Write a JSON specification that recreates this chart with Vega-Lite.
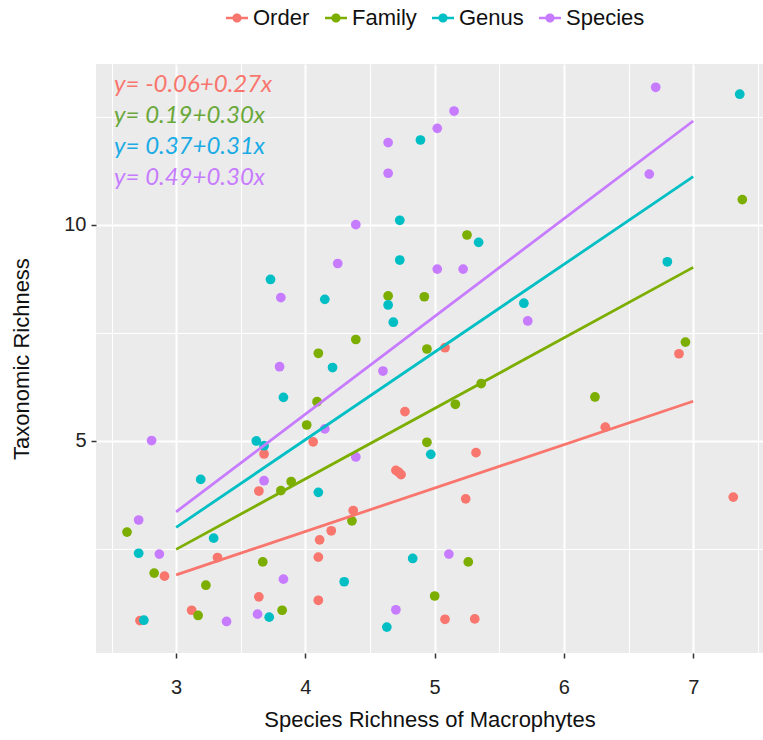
{
  "$schema": "https://vega.github.io/schema/vega-lite/v6.json",
  "width": 667,
  "height": 589,
  "autosize": {"type": "none"},
  "padding": {"left": 96, "top": 64, "right": 0, "bottom": 87},
  "background": "white",
  "config": {
    "view": {"fill": "#ebebeb", "stroke": null},
    "font": "Liberation Sans",
    "axis": {
      "domain": false,
      "gridColor": "white",
      "tickColor": "#333333",
      "labelColor": "#222222",
      "titleColor": "#111111",
      "titleFontWeight": "normal",
      "labelFont": "Liberation Sans",
      "titleFont": "Liberation Sans"
    },
    "legend": {
      "labelFont": "Liberation Sans",
      "labelFontSize": 22,
      "labelColor": "#111111"
    }
  },
  "datasets": {
    "pts": [
      {"x": 4.06, "y": 4.97, "group": "Order"},
      {"x": 3.68, "y": 4.69, "group": "Order"},
      {"x": 3.64, "y": 3.83, "group": "Order"},
      {"x": 3.32, "y": 2.29, "group": "Order"},
      {"x": 4.10, "y": 2.30, "group": "Order"},
      {"x": 4.11, "y": 2.70, "group": "Order"},
      {"x": 4.20, "y": 2.91, "group": "Order"},
      {"x": 2.91, "y": 1.86, "group": "Order"},
      {"x": 3.64, "y": 1.38, "group": "Order"},
      {"x": 4.10, "y": 1.30, "group": "Order"},
      {"x": 3.12, "y": 1.07, "group": "Order"},
      {"x": 2.72, "y": 0.83, "group": "Order"},
      {"x": 4.70, "y": 4.31, "group": "Order"},
      {"x": 4.72, "y": 4.27, "group": "Order"},
      {"x": 4.74, "y": 4.21, "group": "Order"},
      {"x": 5.24, "y": 3.65, "group": "Order"},
      {"x": 4.37, "y": 3.38, "group": "Order"},
      {"x": 5.08, "y": 0.86, "group": "Order"},
      {"x": 5.31, "y": 0.87, "group": "Order"},
      {"x": 5.32, "y": 4.72, "group": "Order"},
      {"x": 4.77, "y": 5.67, "group": "Order"},
      {"x": 5.08, "y": 7.15, "group": "Order"},
      {"x": 6.89, "y": 7.01, "group": "Order"},
      {"x": 6.32, "y": 5.31, "group": "Order"},
      {"x": 7.31, "y": 3.69, "group": "Order"},
      {"x": 5.25, "y": 9.76, "group": "Family"},
      {"x": 7.38, "y": 10.58, "group": "Family"},
      {"x": 4.10, "y": 7.02, "group": "Family"},
      {"x": 4.09, "y": 5.90, "group": "Family"},
      {"x": 4.01, "y": 5.36, "group": "Family"},
      {"x": 4.64, "y": 8.35, "group": "Family"},
      {"x": 4.92, "y": 8.33, "group": "Family"},
      {"x": 4.39, "y": 7.34, "group": "Family"},
      {"x": 4.94, "y": 7.12, "group": "Family"},
      {"x": 5.36, "y": 6.32, "group": "Family"},
      {"x": 5.16, "y": 5.84, "group": "Family"},
      {"x": 4.94, "y": 4.96, "group": "Family"},
      {"x": 6.94, "y": 7.28, "group": "Family"},
      {"x": 6.24, "y": 6.01, "group": "Family"},
      {"x": 3.81, "y": 3.84, "group": "Family"},
      {"x": 3.89, "y": 4.05, "group": "Family"},
      {"x": 2.62, "y": 2.88, "group": "Family"},
      {"x": 3.67, "y": 2.19, "group": "Family"},
      {"x": 2.83, "y": 1.93, "group": "Family"},
      {"x": 3.23, "y": 1.65, "group": "Family"},
      {"x": 3.17, "y": 0.95, "group": "Family"},
      {"x": 3.82, "y": 1.07, "group": "Family"},
      {"x": 4.36, "y": 3.14, "group": "Family"},
      {"x": 5.26, "y": 2.19, "group": "Family"},
      {"x": 5.00, "y": 1.40, "group": "Family"},
      {"x": 4.89, "y": 11.96, "group": "Genus"},
      {"x": 4.73, "y": 10.10, "group": "Genus"},
      {"x": 7.36, "y": 13.02, "group": "Genus"},
      {"x": 6.80, "y": 9.14, "group": "Genus"},
      {"x": 3.73, "y": 8.73, "group": "Genus"},
      {"x": 4.15, "y": 8.27, "group": "Genus"},
      {"x": 4.21, "y": 6.69, "group": "Genus"},
      {"x": 3.83, "y": 6.00, "group": "Genus"},
      {"x": 3.62, "y": 4.99, "group": "Genus"},
      {"x": 3.68, "y": 4.88, "group": "Genus"},
      {"x": 4.73, "y": 9.18, "group": "Genus"},
      {"x": 4.64, "y": 8.14, "group": "Genus"},
      {"x": 4.68, "y": 7.74, "group": "Genus"},
      {"x": 5.69, "y": 8.18, "group": "Genus"},
      {"x": 5.34, "y": 9.59, "group": "Genus"},
      {"x": 4.97, "y": 4.68, "group": "Genus"},
      {"x": 3.19, "y": 4.10, "group": "Genus"},
      {"x": 4.10, "y": 3.80, "group": "Genus"},
      {"x": 3.29, "y": 2.74, "group": "Genus"},
      {"x": 2.71, "y": 2.39, "group": "Genus"},
      {"x": 3.72, "y": 0.91, "group": "Genus"},
      {"x": 2.75, "y": 0.84, "group": "Genus"},
      {"x": 4.83, "y": 2.27, "group": "Genus"},
      {"x": 4.30, "y": 1.73, "group": "Genus"},
      {"x": 4.63, "y": 0.68, "group": "Genus"},
      {"x": 5.15, "y": 12.63, "group": "Species"},
      {"x": 5.02, "y": 12.23, "group": "Species"},
      {"x": 4.64, "y": 11.90, "group": "Species"},
      {"x": 4.64, "y": 11.19, "group": "Species"},
      {"x": 4.39, "y": 10.00, "group": "Species"},
      {"x": 4.25, "y": 9.10, "group": "Species"},
      {"x": 6.71, "y": 13.18, "group": "Species"},
      {"x": 6.66, "y": 11.17, "group": "Species"},
      {"x": 3.81, "y": 8.31, "group": "Species"},
      {"x": 3.80, "y": 6.71, "group": "Species"},
      {"x": 4.15, "y": 5.27, "group": "Species"},
      {"x": 2.81, "y": 5.00, "group": "Species"},
      {"x": 5.02, "y": 8.97, "group": "Species"},
      {"x": 5.22, "y": 8.97, "group": "Species"},
      {"x": 5.72, "y": 7.77, "group": "Species"},
      {"x": 4.60, "y": 6.61, "group": "Species"},
      {"x": 3.68, "y": 4.07, "group": "Species"},
      {"x": 2.71, "y": 3.16, "group": "Species"},
      {"x": 2.87, "y": 2.37, "group": "Species"},
      {"x": 3.83, "y": 1.79, "group": "Species"},
      {"x": 3.63, "y": 0.98, "group": "Species"},
      {"x": 3.39, "y": 0.81, "group": "Species"},
      {"x": 4.39, "y": 4.62, "group": "Species"},
      {"x": 5.11, "y": 2.37, "group": "Species"},
      {"x": 4.70, "y": 1.08, "group": "Species"}
    ],
    "fits": [
      {"x": 3, "y": 1.89, "group": "Order"},
      {"x": 7, "y": 5.91, "group": "Order"},
      {"x": 3, "y": 2.48, "group": "Family"},
      {"x": 7, "y": 9.01, "group": "Family"},
      {"x": 3, "y": 2.99, "group": "Genus"},
      {"x": 7, "y": 11.11, "group": "Genus"},
      {"x": 3, "y": 3.35, "group": "Species"},
      {"x": 7, "y": 12.40, "group": "Species"}
    ],
    "eqs": [
      {"x": 2.52, "y": 13.23, "label": "y= -0.06+0.27x", "group": "Order"},
      {"x": 2.52, "y": 12.51, "label": "y= 0.19+0.30x", "group": "Family"},
      {"x": 2.52, "y": 11.79, "label": "y= 0.37+0.31x", "group": "Genus"},
      {"x": 2.52, "y": 11.08, "label": "y= 0.49+0.30x", "group": "Species"}
    ]
  },
  "encoding": {
    "x": {
      "type": "quantitative",
      "scale": {"domain": [2.38, 7.54], "nice": false, "zero": false},
      "axis": {
        "title": "Species Richness of Macrophytes",
        "titleFontSize": 22,
        "titlePadding": 12,
        "values": [2.5, 3, 3.5, 4, 4.5, 5, 5.5, 6, 6.5, 7, 7.5],
        "labelExpr": "datum.value % 1 === 0 ? format(datum.value, 'd') : ''",
        "gridWidth": {"expr": "datum.value % 1 === 0 ? 2 : 1"},
        "tickOpacity": {"expr": "datum.value % 1 === 0 ? 1 : 0"},
        "tickSize": 5,
        "tickWidth": 1.5,
        "labelFontSize": 20,
        "labelPadding": 19,
        "labelFlush": false
      }
    },
    "y": {
      "type": "quantitative",
      "scale": {"domain": [0.08, 13.72], "nice": false, "zero": false},
      "axis": {
        "title": "Taxonomic Richness",
        "titleFontSize": 22,
        "titlePadding": 30,
        "values": [2.5, 5, 7.5, 10, 12.5],
        "labelExpr": "datum.value % 5 === 0 ? format(datum.value, 'd') : ''",
        "gridWidth": {"expr": "datum.value % 5 === 0 ? 2 : 1"},
        "tickOpacity": {"expr": "datum.value % 5 === 0 ? 1 : 0"},
        "tickSize": 5,
        "tickWidth": 1.5,
        "labelFontSize": 20,
        "labelPadding": 5,
        "labelFlush": false
      }
    }
  },
  "layer": [
    {
      "data": {"name": "pts"},
      "mark": {"type": "circle", "size": 95, "opacity": 1},
      "encoding": {
        "x": {"field": "x", "type": "quantitative"},
        "y": {"field": "y", "type": "quantitative"},
        "color": {
          "field": "group",
          "type": "nominal",
          "scale": {"domain": ["Order", "Family", "Genus", "Species"], "range": ["#F8766D", "#7CAE00", "#00BFC4", "#C77CFF"]},
          "legend": {
            "title": null,
            "orient": "none",
            "direction": "horizontal",
            "legendX": 130,
            "legendY": -57,
            "symbolType": "M-1,-0.12L1,-0.12L1,0.12L-1,0.12Z M0.42,0A0.42,0.42 0 1,1 -0.42,0A0.42,0.42 0 1,1 0.42,0Z",
            "symbolSize": 484,
            "symbolStrokeWidth": 0,
            "symbolOpacity": 1,
            "labelOffset": 5,
            "columnPadding": 15
          }
        }
      }
    },
    {
      "data": {"name": "fits"},
      "mark": {"type": "line", "strokeWidth": 2.8},
      "encoding": {
        "x": {"field": "x", "type": "quantitative"},
        "y": {"field": "y", "type": "quantitative"},
        "detail": {"field": "group"},
        "color": {
          "field": "group",
          "type": "nominal",
          "scale": {"domain": ["Order", "Family", "Genus", "Species"], "range": ["#F8766D", "#7CAE00", "#00BFC4", "#C77CFF"]},
          "legend": null
        }
      }
    },
    {
      "data": {"name": "eqs"},
      "mark": {"type": "text", "align": "left", "baseline": "middle", "font": "Lato", "fontStyle": "italic", "fontSize": 24},
      "encoding": {
        "x": {"field": "x", "type": "quantitative"},
        "y": {"field": "y", "type": "quantitative"},
        "text": {"field": "label"},
        "color": {
          "field": "group",
          "type": "nominal",
          "scale": {"domain": ["Order", "Family", "Genus", "Species"], "range": ["#F8766D", "#6AA83A", "#1AABE6", "#C77CFF"]},
          "legend": null
        }
      }
    }
  ],
  "resolve": {"scale": {"color": "independent"}}
}
